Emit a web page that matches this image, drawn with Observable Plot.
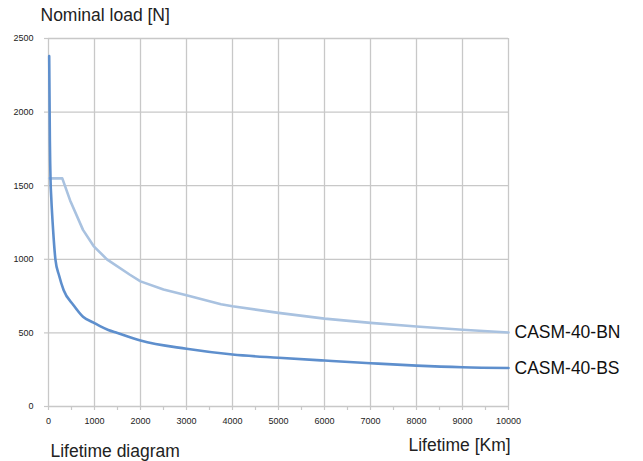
<!DOCTYPE html>
<html>
<head>
<meta charset="utf-8">
<script src="https://cdn.jsdelivr.net/npm/d3@7"></script>
<script src="https://cdn.jsdelivr.net/npm/@observablehq/plot@0.6"></script>
<style>
  html, body { margin: 0; padding: 0; background: #fff; }
  #chart svg { display: block; }
</style>
</head>
<body>
<div id="chart"></div>
<script>
// Lifetime (km) and nominal load (N)
const bnLife = [15, 300, 470, 750, 980, 1270, 1770, 2000, 2500, 3000, 3750, 4000, 5000, 6000, 7000, 8000, 9000, 10000];
const bnLoad = [1550, 1550, 1400, 1200, 1090, 1000, 895, 850, 795, 755, 695, 681, 636, 597, 568, 543, 521, 503];
const bsLife = [15, 30, 45, 60, 100, 150, 230, 330, 540, 750, 980, 1120, 1300, 1500, 2000, 3000, 4000, 5000, 6000, 7000, 8000, 9000, 10000];
const bsLoad = [2380, 1800, 1530, 1420, 1200, 1000, 890, 790, 690, 610, 570, 546, 520, 500, 448, 392, 353, 331, 312, 294, 278, 267, 262];
const seriesNames = ["CASM-40-BN", "CASM-40-BS"];
const seriesColors = ["#a9c2e0", "#5e8fcd"];
const xTicks = [0, 1000, 2000, 3000, 4000, 5000, 6000, 7000, 8000, 9000, 10000];
const xMinorTicks = d3.range(0, 10001, 500);
const yTicks = [0, 500, 1000, 1500, 2000, 2500];
const titleY = "Nominal load [N]";
const titleX = "Lifetime [Km]";
const caption = "Lifetime diagram";

const bn = bnLife.map((x, i) => ({x, y: bnLoad[i], s: seriesNames[0]}));
const bs = bsLife.map((x, i) => ({x, y: bsLoad[i], s: seriesNames[1]}));
const ends = [bn[bn.length - 1], bs[bs.length - 1]];

const font = "'Liberation Sans', Arial, Helvetica, sans-serif";
const grid = "#c8c8c8";

const chart = Plot.plot({
  width: 643,
  height: 461,
  marginLeft: 48,
  marginRight: 135,
  marginTop: 38,
  marginBottom: 55,
  style: {fontFamily: font, fontSize: "9px", color: "#222", background: "#fff", overflow: "visible"},
  x: {domain: [0, 10000]},
  y: {domain: [0, 2500]},
  color: {domain: seriesNames, range: seriesColors},
  marks: [
    Plot.ruleX(xTicks, {stroke: grid, strokeWidth: 1.3}),
    Plot.ruleY(yTicks, {stroke: grid, strokeWidth: 1.3}),
    Plot.axisX({ticks: xMinorTicks, tickSize: 4, text: null, label: null, stroke: grid, strokeWidth: 1.2}),
    Plot.axisX({ticks: xTicks, tickSize: 0, tickPadding: 11, tickFormat: d => String(d), label: null, fill: "#222"}),
    Plot.axisY({ticks: yTicks, tickSize: 4, tickPadding: 11, tickFormat: d => String(d), label: null, stroke: grid, strokeWidth: 1.2, fill: "#222"}),
    Plot.line(bn, {x: "x", y: "y", stroke: "s", strokeWidth: 2.6}),
    Plot.line(bs, {x: "x", y: "y", stroke: "s", strokeWidth: 2.6, curve: "monotone-x"}),
    Plot.text(ends, {x: "x", y: "y", text: "s", textAnchor: "start", dx: 6, fontSize: 17.5, fill: "#111"}),
    Plot.text([titleY], {frameAnchor: "top-left", dx: -8, dy: -30, textAnchor: "start", fontSize: 17.5, fill: "#222"}),
    Plot.text([titleX], {frameAnchor: "bottom-right", dx: -100, dy: 44, textAnchor: "start", fontSize: 17.5, fill: "#222"}),
    Plot.text([caption], {frameAnchor: "bottom-left", dx: 2, dy: 50, textAnchor: "start", fontSize: 17.5, fill: "#222"})
  ]
});
document.getElementById("chart").append(chart);
</script>
</body>
</html>
